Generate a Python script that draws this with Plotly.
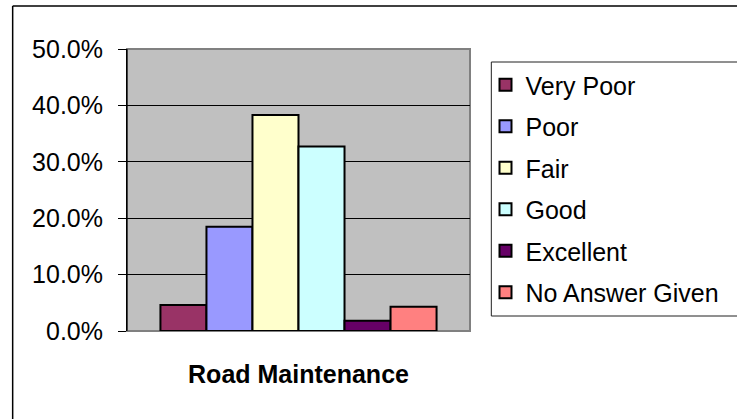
import plotly.graph_objects as go

category = ["Road Maintenance"]
series_names = ["Very Poor", "Poor", "Fair", "Good", "Excellent", "No Answer Given"]
series_values = [0.046, 0.185, 0.383, 0.327, 0.018, 0.043]
series_colors = ["#993366", "#9999FF", "#FFFFCC", "#CCFFFF", "#660066", "#FF8080"]
y_ticks = [0.0, 0.1, 0.2, 0.3, 0.4, 0.5]

FONT = "Arial, 'Liberation Sans', sans-serif"

fig = go.Figure()
for name, val, col in zip(series_names, series_values, series_colors):
    fig.add_trace(go.Bar(
        x=category, y=[val], name=name, legendgroup=name,
        marker=dict(color=col, line=dict(color="black", width=2)),
    ))

W, H = 737, 419
L, R, T, B = 127, 256, 49, 88
pw = W - L - R
ph = H - T - B

def px_x(px):
    return (px - L) / pw

def px_y(py):
    return (H - B - py) / ph

fig.update_layout(
    width=W, height=H,
    margin=dict(l=L, r=R, t=T, b=B, pad=0),
    paper_bgcolor="white",
    plot_bgcolor="#C0C0C0",
    barmode="group",
    bargap=0.195,
    bargroupgap=0,
    font=dict(family=FONT, size=25, color="black"),
    showlegend=True,
    legend=dict(
        x=px_x(497), y=px_y(62), xanchor="left", yanchor="top",
        bgcolor="rgba(0,0,0,0)", borderwidth=0,
        font=dict(family=FONT, size=25, color="black"),
        traceorder="grouped", tracegroupgap=6,
    ),
    xaxis=dict(
        showgrid=False, showline=False, ticks="",
        tickfont=dict(family=FONT, size=25, color="black", weight="bold"),
        ticklabelstandoff=26,
    ),
    yaxis=dict(
        range=[0, 0.5], tickvals=y_ticks, tickformat=".1%",
        showgrid=True, gridcolor="black", gridwidth=1,
        zeroline=False,
        showline=True, linecolor="black", linewidth=1,
        ticks="outside", ticklen=8, tickcolor="black", tickwidth=1,
        tickfont=dict(family=FONT, size=25, color="black"),
        ticklabelstandoff=10,
    ),
    shapes=[
        dict(type="rect", xref="paper", yref="paper", x0=0, x1=1, y0=0, y1=1,
             line=dict(color="#808080", width=2), layer="below"),
        dict(type="line", xref="paper", yref="paper", x0=0, x1=0, y0=0, y1=1,
             line=dict(color="black", width=1)),
        # outer chart border (left and top edges; right/bottom lie outside the view)
        dict(type="line", xref="paper", yref="paper",
             x0=px_x(9), x1=px_x(9), y0=px_y(6), y1=px_y(440),
             line=dict(color="black", width=1.5)),
        dict(type="line", xref="paper", yref="paper",
             x0=px_x(9), x1=px_x(760), y0=px_y(6), y1=px_y(6),
             line=dict(color="black", width=1.5)),
        # legend box (extends past the right edge)
        dict(type="rect", xref="paper", yref="paper",
             x0=px_x(503), x1=px_x(800), y0=px_y(62), y1=px_y(316),
             line=dict(color="#202020", width=1), fillcolor="white"),
    ],
)

fig.write_html("out.html", post_script="document.body.style.margin='0px';",
               config={"displayModeBar": False})
